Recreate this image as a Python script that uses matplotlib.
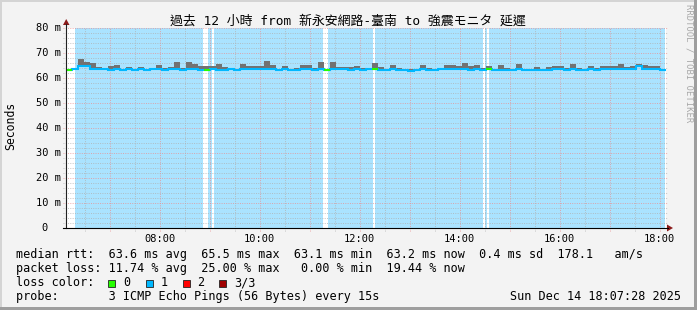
import matplotlib
matplotlib.use("Agg")
import matplotlib.pyplot as plt
import numpy as np
from matplotlib.lines import Line2D
from matplotlib.patches import Rectangle, Polygon

# ---------------- data ----------------
title = "過去 12 小時 from 新永安網路-臺南 to 強震モニタ 延遲"
y_label = "Seconds"
watermark = "RRDTOOL / TOBI OETIKER"

start_hour = 6 + 7 / 60 + 28 / 3600      # 06:07:28
span_hours = 12
bin_hours = 0.12                          # 7.2 minutes per bin

median_ms = [
    63.4, 63.8, 65.0, 64.8, 63.7, 63.5, 63.5, 63.4, 63.5, 63.3,
    63.5, 63.4, 63.5, 63.4, 63.5, 63.6, 63.4, 63.5, 63.6, 63.4,
    63.6, 63.5, 63.4, 63.2, 63.5, 63.4, 63.4, 63.5, 63.4, 63.5,
    63.5, 63.6, 63.6, 63.7, 63.5, 63.4, 63.5, 63.3, 63.4, 63.5,
    63.5, 63.3, 63.5, 63.2, 63.6, 63.5, 63.5, 63.4, 63.5, 63.4,
    63.5, 63.6, 63.4, 63.3, 63.5, 63.4, 63.4, 63.0, 63.3, 63.5,
    63.4, 63.3, 63.5, 63.5, 63.6, 63.5, 63.5, 63.4, 63.5, 63.4,
    63.5, 63.4, 63.4, 63.3, 63.4, 63.5, 63.4, 63.3, 63.4, 63.3,
    63.4, 63.5, 63.5, 63.4, 63.5, 63.4, 63.3, 63.5, 63.4, 63.6,
    63.6, 63.6, 63.6, 63.5, 63.6, 65.0, 63.8, 63.7, 63.6, 63.1,
]
smoke_top_ms = [
    63.6, 64.0, 67.5, 66.6, 66.0, 64.3, 64.2, 64.8, 65.2, 63.8,
    64.5, 63.8, 64.3, 63.7, 63.9, 65.1, 63.9, 64.5, 66.4, 63.9,
    66.4, 65.5, 65.0, 65.0, 65.0, 65.5, 64.3, 63.8, 63.8, 65.5,
    65.0, 65.0, 64.8, 67.0, 65.2, 63.8, 64.8, 63.8, 63.9, 65.2,
    65.2, 63.9, 66.5, 63.6, 66.5, 64.5, 64.5, 64.5, 64.8, 64.0,
    63.9, 66.1, 64.5, 63.8, 65.2, 64.0, 63.8, 63.5, 63.8, 65.2,
    64.0, 63.8, 64.0, 65.2, 65.2, 64.8, 66.1, 64.8, 65.2, 63.9,
    64.8, 63.8, 65.2, 64.1, 63.8, 65.8, 63.8, 63.7, 64.5, 63.8,
    64.5, 64.8, 64.8, 63.9, 65.8, 64.0, 63.8, 64.8, 63.9, 64.8,
    64.8, 64.8, 65.8, 64.5, 64.8, 65.8, 65.2, 64.8, 64.8, 63.5,
]
green_bins = [0, 23, 43, 51, 70]          # bins with no packet loss

lossfree_start = [6.12, 8.86, 9.04, 11.26, 12.26, 14.46, 14.54, 18.10]
lossfree_end = [6.30, 8.96, 9.08, 11.36, 12.30, 14.50, 14.58, 18.13]

y_ticks = [0, 10, 20, 30, 40, 50, 60, 70, 80]
y_tick_labels = ["0  ", "10 m", "20 m", "30 m", "40 m", "50 m", "60 m", "70 m", "80 m"]
x_ticks = [8, 10, 12, 14, 16, 18]
x_tick_labels = ["08:00", "10:00", "12:00", "14:00", "16:00", "18:00"]

legend_rtt = "median rtt:  63.6 ms avg  65.5 ms max  63.1 ms min  63.2 ms now  0.4 ms sd  178.1   am/s"
legend_loss = "packet loss: 11.74 % avg  25.00 % max   0.00 % min  19.44 % now"
loss_color_title = "loss color:"
loss_color_labels = ["0", "1", "2", "3/3"]
loss_colors = ["#26ff00", "#00b8ff", "#ff0000", "#a00000"]
probe_text = "probe:       3 ICMP Echo Pings (56 Bytes) every 15s"
date_text = "Sun Dec 14 18:07:28 2025"

# ---------------- styling ----------------
W, H = 697, 310
MONO = "DejaVu Sans Mono"
BG = "#f3f3f3"
LOSS_BG = "#aae3ff"
SMOKE = "#727272"
MINOR = "#b0b0b0"
MAJOR = "#ea8e8e"
ARROW = "#8b1a1a"

fig = plt.figure(figsize=(W / 100, H / 100), dpi=100, facecolor=BG)


def fx(px):
    return px / W


def fy(py):
    return 1 - py / H


def ftext(x, y, s, **kw):
    fig.text(fx(x), fy(y), s, **kw)


# frame border (3D look)
fig.add_artist(Rectangle((0, 0), 2 / W, 1, transform=fig.transFigure, color="#d4d4d4", lw=0))
fig.add_artist(Rectangle((0, 1 - 2 / H), 1, 2 / H, transform=fig.transFigure, color="#d4d4d4", lw=0))
fig.add_artist(Rectangle((1 - 3 / W, 0), 3 / W, 1, transform=fig.transFigure, color="#9e9e9e", lw=0))
fig.add_artist(Rectangle((0, 0), 1, 3 / H, transform=fig.transFigure, color="#9e9e9e", lw=0))

# plot area: x 66..666 px, y 28..228 px
ax = fig.add_axes([fx(66), fy(228), 600 / W, 200 / H])
ax.set_facecolor("white")
t0, t1 = start_hour, start_hour + span_hours
ax.set_xlim(t0, t1)
ax.set_ylim(0, 80)
for s in ax.spines.values():
    s.set_visible(False)
ax.set_xticks([])
ax.set_yticks([])

# loss background
ax.axvspan(t0, t1, color=LOSS_BG, lw=0, zorder=1)
for a, b in zip(lossfree_start, lossfree_end):
    ax.axvspan(a, b, color="white", lw=0, zorder=1.1)

# grid (fine dotted)
dot = (0, (1.2, 1.8))
for yv in range(2, 81, 2):
    c = MAJOR if yv % 10 == 0 else MINOR
    ax.plot([-3 / 600, 602 / 600], [yv, yv], transform=ax.get_yaxis_transform(),
            color=c, lw=0.55, ls=dot, clip_on=False, zorder=2)
hv = np.arange(np.ceil(t0 * 2) / 2, t1, 0.5)
for h in hv:
    c = MAJOR if abs(h - round(h)) < 1e-6 else MINOR
    ax.plot([h, h], [-3 / 200, 1], transform=ax.get_xaxis_transform(),
            color=c, lw=0.55, ls=dot, clip_on=False, zorder=2)

# smoke + median
n = len(median_ms)
edges = t0 + bin_hours * np.arange(n + 1)
med = np.array(median_ms)
top = np.array(smoke_top_ms)
ax.stairs(top, edges, baseline=med, fill=True, color=SMOKE, lw=0, zorder=3)
ax.stairs(med, edges, baseline=None, color=loss_colors[1], lw=1.5, zorder=4)
for i in green_bins:
    ax.hlines(med[i], edges[i], edges[i + 1], color=loss_colors[0], lw=1.5, zorder=5)

# axes lines & arrows
fig.add_artist(Line2D([fx(66), fx(66)], [fy(228), fy(24)], transform=fig.transFigure, color="#222222", lw=0.8))
fig.add_artist(Line2D([fx(63), fx(668)], [fy(228), fy(228)], transform=fig.transFigure, color="#000000", lw=0.8))
fig.add_artist(Polygon([(fx(63), fy(25)), (fx(69.5), fy(25)), (fx(66.2), fy(19))],
                       closed=True, transform=fig.transFigure, color=ARROW, lw=0))
fig.add_artist(Polygon([(fx(667), fy(224.5)), (fx(667), fy(231.5)), (fx(673), fy(228))],
                       closed=True, transform=fig.transFigure, color=ARROW, lw=0))

# tick labels
for v, lab in zip(y_ticks, y_tick_labels):
    ftext(60.5, 228 - v * 2.5, lab, ha="right", va="center", family=MONO, fontsize=7.5, color="#000000")
for h, lab in zip(x_ticks, x_tick_labels):
    xp = 66 + (h - t0) * 50
    ftext(xp, 238.5, lab, ha="center", va="center", family=MONO, fontsize=7.5, color="#000000")

# title, labels, watermark
ftext(348, 21, title, ha="center", va="center", family=[MONO, "Noto Sans CJK TC"], fontsize=9.3, color="#000000")
ftext(10.5, 126, y_label, ha="center", va="center", rotation=90, family=MONO, fontsize=8.3, color="#000000")
ftext(688.5, 63.5, watermark, ha="center", va="center", rotation=270, family=MONO, fontsize=6.4, color="#a8a8a8")

# legend
ftext(16, 254.5, legend_rtt, ha="left", va="center", family=MONO, fontsize=8.5, color="#000000")
ftext(16, 268.5, legend_loss, ha="left", va="center", family=MONO, fontsize=8.5, color="#000000")
ftext(16, 282.5, loss_color_title, ha="left", va="center", family=MONO, fontsize=8.5, color="#000000")
box_x = [108, 146, 183, 219]
lab_x = [123, 161, 197, 234]
for bx, lx, c, lab in zip(box_x, lab_x, loss_colors, loss_color_labels):
    fig.add_artist(Rectangle((fx(bx), fy(286.5)), 7 / W, 7 / H, transform=fig.transFigure,
                             facecolor=c, edgecolor="#222222", lw=0.6))
    ftext(lx, 282.5, lab, ha="left", va="center", family=MONO, fontsize=8.5, color="#000000")
ftext(16, 296.5, probe_text, ha="left", va="center", family=MONO, fontsize=8.5, color="#000000")
ftext(681, 296.5, date_text, ha="right", va="center", family=MONO, fontsize=8.5, color="#000000")

fig.savefig("out.png", dpi=100, facecolor=BG)
